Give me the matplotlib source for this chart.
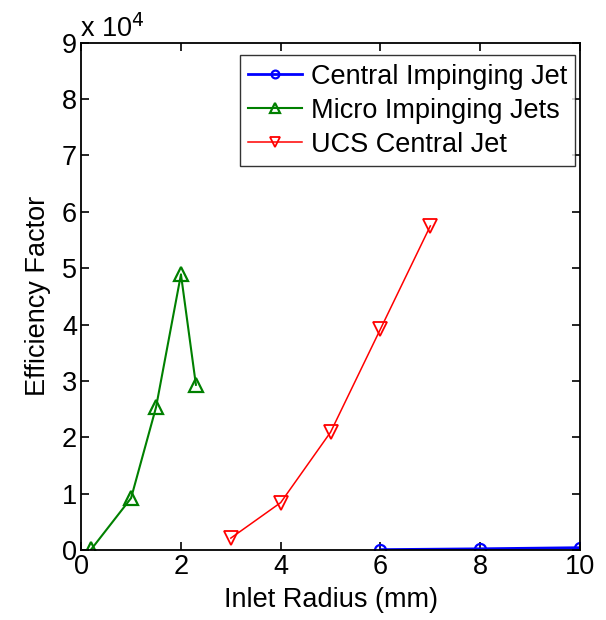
import matplotlib
matplotlib.use("Agg")
import matplotlib.pyplot as plt
from matplotlib.ticker import FuncFormatter, MultipleLocator

plt.rcParams['font.family'] = ['Liberation Sans', 'DejaVu Sans']

central_x = [6, 8, 10]
central_y = [50, 200, 400]
micro_x = [0.2, 1, 1.5, 2, 2.3]
micro_y = [100, 9200, 25300, 48900, 29300]
ucs_x = [3, 4, 5, 6, 7]
ucs_y = [2100, 8400, 20900, 39200, 57500]
labels = ["Central Impinging Jet", "Micro Impinging Jets", "UCS Central Jet"]

FS = 19.5
fig = plt.figure(figsize=(6.06, 6.20), dpi=100)
ax = fig.add_axes([0.134, 0.113, 0.823, 0.818])

ax.plot(central_x, central_y, color=(0, 0, 1), lw=2, marker='o', ms=8,
        mfc='none', mec=(0, 0, 1), mew=1.6, label=labels[0])
ax.plot(micro_x, micro_y, color=(0, 0.5, 0), lw=1.5, marker='^', ms=10,
        mfc='none', mec=(0, 0.5, 0), mew=1.6, label=labels[1])
ax.plot(ucs_x, ucs_y, color=(1, 0, 0), lw=1.1, marker='v', ms=10.5,
        mfc='none', mec=(1, 0, 0), mew=1.3, label=labels[2])

ax.set_xlim(0, 10)
ax.set_ylim(0, 90000)
ax.xaxis.set_major_locator(MultipleLocator(2))
ax.yaxis.set_major_locator(MultipleLocator(10000))
ax.yaxis.set_major_formatter(FuncFormatter(lambda v, p: f"{v/1e4:.0f}"))
ax.tick_params(direction='in', top=True, right=True, labelsize=FS, length=6,
               width=1.2, pad=3)
for s in ax.spines.values():
    s.set_linewidth(1.3)

ax.set_xlabel("Inlet Radius (mm)", fontsize=FS, labelpad=5)
ax.set_ylabel("Efficiency Factor", fontsize=FS, labelpad=8)
ax.text(-0.003, 1.0, r"x 10$^4$", transform=ax.transAxes, fontsize=FS,
        ha='left', va='bottom')

leg = ax.legend(loc='upper right', bbox_to_anchor=(0.99, 0.975),
                bbox_transform=ax.transAxes, borderaxespad=0,
                fontsize=FS, frameon=True, fancybox=False,
                edgecolor='black', handlelength=2.0, borderpad=0.3,
                labelspacing=0.3, handletextpad=0.3, markerscale=0.7)
leg.get_frame().set_linewidth(1)

fig.savefig("out.png", dpi=100, facecolor='white')
